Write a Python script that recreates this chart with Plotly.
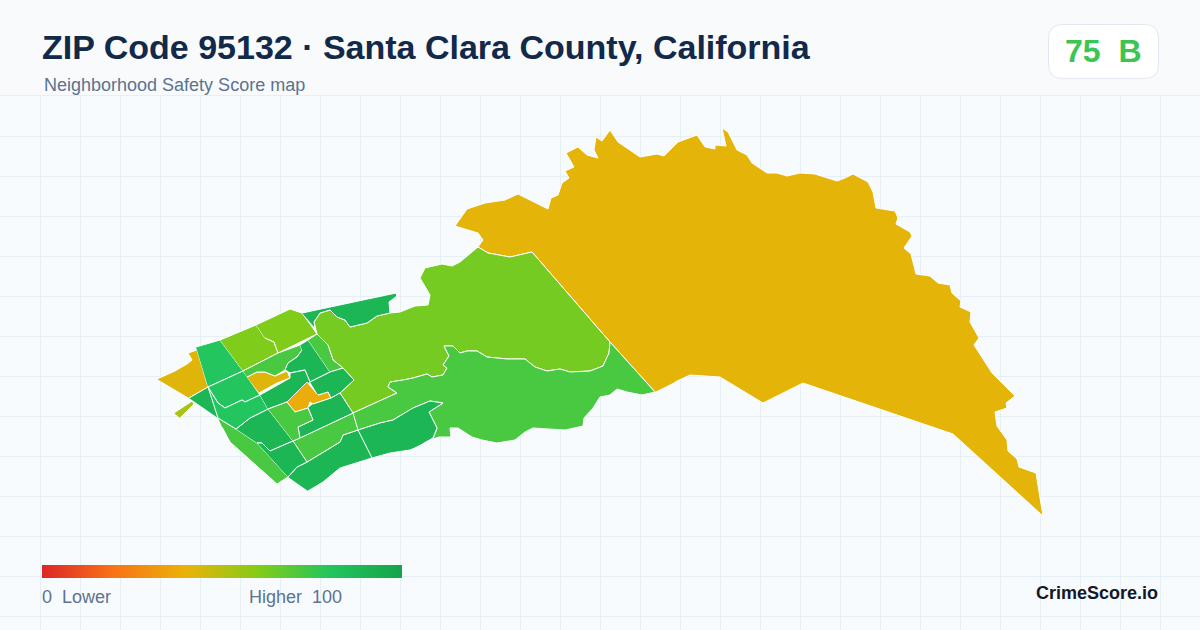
import plotly.graph_objects as go
from plotly.colors import sample_colorscale

W = 1200
H = 630

title = "ZIP Code 95132 · Santa Clara County, California"
subtitle = "Neighborhood Safety Score map"
badge = "75  B"
legend_low = "0  Lower"
legend_high = "Higher  100"
brand = "CrimeScore.io"

# Score colour ramp, same one the legend bar shows
ramp = [[0.0, "#dc2626"], [0.2, "#f97316"], [0.4, "#eab308"],
        [0.6, "#84cc16"], [0.8, "#22c55e"], [1.0, "#16a34a"]]

# Tract outlines (map units are screen pixels)
foothills = [(655, 392), (610, 342), (532, 252), (510, 257), (488, 253), (478, 247), (483, 240), (478, 233),
             (468, 230), (455, 226), (467, 209), (485, 203), (505, 200), (518, 194), (548, 209), (551, 198),
             (558, 195), (562, 183), (569, 178), (565, 171), (574, 167), (566, 153), (578, 147), (587, 155),
             (598, 158), (594, 150), (596, 137), (602, 141), (610, 130), (618, 142), (640, 157), (657, 154),
             (664, 156), (678, 142), (697, 135), (705, 147), (715, 149), (715, 145), (726, 146), (722, 128),
             (728, 132), (737, 150), (747, 155), (752, 163), (767, 173), (777, 173), (787, 176), (800, 173),
             (815, 174), (837, 181), (845, 178), (853, 174), (868, 182), (873, 192), (876, 208), (895, 211),
             (898, 218), (896, 224), (910, 232), (912, 236), (904, 248), (911, 254), (916, 274), (930, 276),
             (938, 283), (950, 285), (952, 293), (961, 301), (960, 307), (971, 312), (970, 322), (979, 338),
             (974, 345), (992, 373), (1015, 396), (1006, 403), (1007, 408), (995, 412), (997, 426), (1007, 440),
             (1008, 451), (1017, 459), (1019, 467), (1036, 473), (1043, 516), (953, 434), (803, 383), (763, 403),
             (720, 377), (690, 375), (675, 382)]
east_lime = [(317, 334), (314, 322), (320, 313), (330, 310), (337, 317), (345, 320), (350, 327), (367, 323),
             (377, 316), (390, 313), (400, 312), (415, 306), (428, 305), (430, 295), (420, 278), (425, 268),
             (442, 264), (452, 266), (460, 262), (478, 247), (488, 253), (510, 257), (532, 252), (610, 342),
             (609, 353), (603, 366), (590, 371), (570, 372), (560, 369), (547, 371), (535, 367), (525, 359),
             (507, 359), (487, 357), (477, 351), (467, 351), (460, 353), (453, 346), (444, 346), (449, 356),
             (443, 365), (447, 368), (443, 375), (432, 377), (427, 374), (413, 378), (403, 380), (390, 382),
             (388, 387), (397, 393), (353, 413), (340, 393), (354, 380), (343, 368), (333, 360), (328, 345)]
east_green = [(353, 413), (397, 393), (388, 387), (390, 382), (403, 380), (413, 378), (427, 374), (432, 377),
              (443, 375), (447, 368), (443, 365), (449, 356), (444, 346), (453, 346), (460, 353), (467, 351),
              (477, 351), (487, 357), (507, 359), (525, 359), (535, 367), (547, 371), (560, 369), (570, 372),
              (590, 371), (603, 366), (609, 353), (610, 342), (655, 392), (642, 395), (627, 392), (617, 389),
              (610, 395), (600, 397), (593, 408), (584, 418), (583, 426), (565, 430), (533, 428), (525, 432),
              (515, 440), (497, 443), (482, 440), (472, 437), (458, 428), (450, 428), (451, 437), (439, 437),
              (433, 439), (437, 428), (429, 412), (443, 403), (430, 401), (413, 408), (393, 420), (380, 423),
              (358, 430)]
south_east = [(358, 430), (380, 423), (393, 420), (413, 408), (430, 401), (443, 403), (429, 412), (437, 428),
              (433, 438), (417, 447), (410, 450), (390, 453), (372, 458)]
south_strip = [(288, 477), (297, 467), (307, 462), (340, 442), (343, 435), (358, 430), (372, 458), (340, 468),
               (323, 482), (308, 491)]
south_mid = [(293, 441), (353, 413), (358, 430), (343, 435), (340, 442), (307, 462)]
west_band = [(218, 418), (236, 429), (257, 443), (288, 477), (277, 484), (250, 460), (230, 442), (222, 427)]
berryessa_a = [(236, 429), (250, 418), (268, 409), (293, 441), (270, 451), (262, 443), (257, 443)]
berryessa_b = [(257, 443), (262, 443), (270, 451), (293, 441), (307, 462), (297, 467), (288, 477)]
west_gold = [(157, 379), (175, 371), (187, 364), (192, 360), (188, 353), (197, 350), (208, 387), (189, 398)]
sliver = [(174, 413), (192, 401), (194, 404), (180, 418)]
north_west = [(196, 347), (220, 340), (243, 371), (208, 387)]
lime_left = [(220, 340), (256, 325), (265, 338), (274, 342), (278, 353), (243, 371)]
lime_right = [(256, 325), (290, 309), (302, 313), (317, 334), (278, 353), (274, 342), (265, 338)]
north_strip = [(302, 313), (396, 293), (397, 296), (389, 302), (390, 313), (377, 316), (367, 323), (350, 327),
               (345, 320), (337, 317), (330, 310), (320, 313), (314, 322), (315, 328)]
mid_left = [(208, 387), (243, 371), (260, 395), (245, 402), (242, 400), (225, 408), (218, 403), (213, 395)]
mid_lower = [(208, 387), (213, 395), (218, 403), (225, 408), (242, 400), (245, 402), (260, 395), (268, 409),
             (250, 418), (236, 429), (218, 418)]
west_wedge = [(189, 398), (208, 387), (218, 418)]
center_gold = [(247, 377), (257, 372), (265, 372), (275, 376), (287, 371), (290, 378), (277, 383), (259, 393)]
north_mid = [(243, 371), (278, 353), (300, 345), (302, 350), (297, 357), (288, 363), (285, 370), (275, 376),
             (265, 372), (257, 372), (247, 377)]
center_a = [(300, 345), (308, 340), (330, 372), (310, 382), (305, 370), (290, 373), (287, 371), (285, 370),
            (288, 363), (297, 357), (302, 350)]
center_b = [(308, 340), (317, 334), (328, 345), (333, 360), (343, 368), (330, 372)]
center_c = [(260, 395), (290, 378), (290, 373), (305, 370), (310, 382), (287, 402), (268, 409)]
center_orange = [(287, 402), (307, 382), (318, 395), (328, 392), (331, 398), (313, 404), (310, 402), (308, 408),
                 (295, 412)]
center_d = [(310, 382), (330, 372), (343, 368), (354, 380), (340, 393), (331, 398), (328, 392), (318, 395)]
center_e = [(313, 404), (331, 398), (340, 393), (353, 413), (300, 438), (298, 427), (313, 420), (308, 408)]
center_f = [(268, 409), (287, 402), (295, 412), (308, 408), (313, 420), (298, 427), (300, 438), (293, 441)]

tracts = [foothills, east_lime, east_green, south_east, south_strip, south_mid, west_band, berryessa_a,
          berryessa_b, west_gold, sliver, north_west, lime_left, lime_right, north_strip, mid_left, mid_lower,
          west_wedge, center_gold, north_mid, center_a, center_b, center_c, center_orange, center_d, center_e,
          center_f]
scores = [41, 63, 72, 89, 89, 72, 72, 89,
          89, 42, 53, 80, 61, 61, 89, 80, 80,
          89, 42, 72, 89, 72, 89, 38, 89, 89,
          72]


def px(x):
    return x / W


def py(y):
    return 1 - y / H


def add_text(fig, x, y, text, size, color, bold=False, anchor="left"):
    # annotations carry 1px of padding, take it back out
    nudge = {"left": -1, "right": 1, "center": 0}[anchor]
    fig.add_annotation(xref="paper", yref="paper", x=px(x + nudge), y=py(y), text=text, showarrow=False,
                       xanchor=anchor, yanchor="middle", borderpad=0,
                       font=dict(family="Liberation Sans", size=size, color=color, weight="bold" if bold else "normal"))


def badge_path(x0, y0, x1, y1, r):
    a, b, c, d = px(x0), px(x1), py(y0), py(y1)
    rx, ry = r / W, r / H
    return (f"M {a + rx} {c} L {b - rx} {c} Q {b} {c} {b} {c - ry} L {b} {d + ry} Q {b} {d} {b - rx} {d} "
            f"L {a + rx} {d} Q {a} {d} {a} {d + ry} L {a} {c - ry} Q {a} {c} {a + rx} {c} Z")


fig = go.Figure()

for tract, score in zip(tracts, scores):
    colour = sample_colorscale(ramp, score / 100)[0]
    fig.add_trace(go.Scatter(x=[p[0] for p in tract], y=[p[1] for p in tract], mode="lines", fill="toself",
                             fillcolor=colour, line=dict(color="white", width=1), hoverinfo="skip",
                             showlegend=False))

# Invisible trace, only there to carry the legend bar
fig.add_trace(go.Scatter(x=[None], y=[None], mode="markers", showlegend=False, hoverinfo="skip",
                         marker=dict(color=[75], cmin=0, cmax=100, colorscale=ramp, showscale=True,
                                     colorbar=dict(orientation="h", lenmode="pixels", len=360,
                                                   thicknessmode="pixels", thickness=13, xanchor="left",
                                                   x=px(42), yanchor="bottom", y=py(578), xpad=0, ypad=0,
                                                   outlinewidth=0, borderwidth=0, ticks="",
                                                   showticklabels=False))))

# Axis lines give the top and left edge of the grid, the gridlines there get dropped
fig.update_layout(width=W, height=H, margin=dict(l=0, r=0, t=0, b=0, autoexpand=False),
                  paper_bgcolor="#f8fafc", plot_bgcolor="#f8fbfd",
                  xaxis=dict(range=[0, W], tick0=0.5, dtick=40, showgrid=True, gridcolor="#e6eff4", gridwidth=1,
                             side="top", showline=True, linecolor="#e6eff4", linewidth=1,
                             zeroline=False, showticklabels=False, ticks="", fixedrange=True),
                  yaxis=dict(range=[H, 96], domain=[0, 1 - 96 / H], tick0=96.5, dtick=40, showgrid=True,
                             gridcolor="#e6eff4", gridwidth=1, showline=True, linecolor="#e6eff4", linewidth=1,
                             zeroline=False, showticklabels=False, ticks="", fixedrange=True))

fig.add_shape(type="path", xref="paper", yref="paper", path=badge_path(1048.5, 24.5, 1158.5, 78.5, 14),
              fillcolor="white", line=dict(color="#e2e8f0", width=1))

add_text(fig, 42, 47, title, 34, "#12294a", bold=True)
add_text(fig, 44, 85, subtitle, 18, "#5b7390")
add_text(fig, 1102.5, 51, badge, 32, "#3cc552", bold=True, anchor="center")
add_text(fig, 42, 597, legend_low, 18, "#5b7390")
add_text(fig, 342, 597, legend_high, 18, "#5b7390", anchor="right")
add_text(fig, 1158, 593, brand, 18, "#111827", bold=True, anchor="right")

# The page's default body margin would shift everything by 8px
fig.write_html("out.html", config=dict(displayModeBar=False), post_script="document.body.style.margin = '0';")
